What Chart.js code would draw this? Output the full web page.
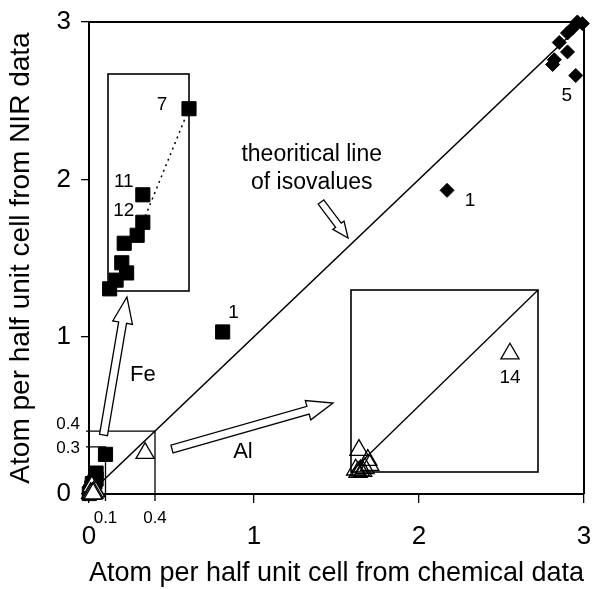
<!DOCTYPE html>
<html>
<head>
<meta charset="utf-8">
<script src="https://cdn.jsdelivr.net/npm/chart.js@4.4.1/dist/chart.umd.min.js"></script>
<style>
  body { margin: 0; background: #fff; }
  #wrap { position: relative; width: 596px; height: 589px; }
  canvas { position: absolute; }
</style>
</head>
<body>
<div id="wrap">
  <canvas id="main" width="596" height="589" style="left:0;top:0"></canvas>
  <canvas id="fe" width="111" height="247" style="left:93px;top:59px"></canvas>
  <canvas id="al" width="217" height="212" style="left:336px;top:275px"></canvas>
</div>
<script>
// Fe (squares), Al (triangles) and the diamond series, atoms per half unit cell
const feX = [0.100, 0.043, 0.043, 0.036, 0.020, 0.023, 0.017, 0.010, 0.002, 0.81];
const feY = [0.252, 0.133, 0.095, 0.077, 0.066, 0.025, 0.039, 0.015, 0.003, 1.03];
const feTags = ["7", "11", "12", "", "", "", "", "", "", "1"];

const alX = [0.34, 0.017, 0.036, 0.040, 0.010, 0.020, 0.030, 0.015, 0.025];
const alY = [0.26, 0.048, 0.026, 0.015, 0.005, 0.003, 0.008, 0.000, 0.002];
const alTags = ["14", "", "", "", "", "", "", "", ""];

const diaX = [2.17, 2.96, 2.99, 2.93, 2.90, 2.85, 2.90, 2.82, 2.81, 2.95];
const diaY = [1.93, 3.00, 2.99, 2.96, 2.93, 2.87, 2.81, 2.76, 2.73, 2.66];
const diaTags = ["1", "", "", "", "", "", "", "", "", "5"];

// zoomed ranges shown in the two boxes
const feRange = [0.1, 0.3];
const alRange = [0.4, 0.4];

const axisTicks = [0, 1, 2, 3];
const isoLine = [0, 3];

const FONT = "'Liberation Sans', Arial, Helvetica, sans-serif";

const pts = (xs, ys) => xs.map((v, i) => ({ x: v, y: ys[i] }));

// where the sample numbers sit relative to their marker (px)
const tagOffset = {
  "fe:7": [-27, -4], "fe:11": [-19, -13], "fe:12": [-19, -12], "fe:1": [11, -19],
  "dia:1": [23, 10], "dia:5": [-9, 20], "al:14": [0, 24]
};

function drawTags(chart, inZoom) {
  const { ctx, scales: { x, y } } = chart;
  ctx.save();
  ctx.fillStyle = "#000";
  ctx.font = "19px " + FONT;
  ctx.textAlign = "center";
  ctx.textBaseline = "middle";
  chart.data.datasets.forEach((ds) => {
    if (!ds.tags) return;
    ds.data.forEach((p, i) => {
      const t = ds.tags[i];
      if (!t) return;
      const inside = p.x <= x.max && p.y <= y.max;
      const zoomed = ds.range && p.x <= ds.range[0] && p.y <= ds.range[1];
      if (!inside || (!inZoom && zoomed)) return;
      const off = tagOffset[ds.key + ":" + t] || [0, 0];
      ctx.fillText(t, x.getPixelForValue(p.x) + off[0], y.getPixelForValue(p.y) + off[1]);
    });
  });
  ctx.restore();
}

function hollowArrow(ctx, x0, y0, x1, y1, w, hw, hl) {
  const len = Math.hypot(x1 - x0, y1 - y0);
  const ux = (x1 - x0) / len, uy = (y1 - y0) / len;
  const nx = -uy, ny = ux;
  const bx = x1 - ux * hl, by = y1 - uy * hl;
  ctx.beginPath();
  ctx.moveTo(x0 + nx * w, y0 + ny * w);
  ctx.lineTo(bx + nx * w, by + ny * w);
  ctx.lineTo(bx + nx * hw, by + ny * hw);
  ctx.lineTo(x1, y1);
  ctx.lineTo(bx - nx * hw, by - ny * hw);
  ctx.lineTo(bx - nx * w, by - ny * w);
  ctx.lineTo(x0 - nx * w, y0 - ny * w);
  ctx.closePath();
  ctx.fillStyle = "#fff";
  ctx.fill();
  ctx.stroke();
}

const mainDecor = {
  id: "mainDecor",
  beforeDatasetsDraw(chart) {
    const { ctx, chartArea: a, scales: { x, y } } = chart;
    ctx.save();
    ctx.strokeStyle = "#000";
    ctx.lineWidth = 2;
    ctx.beginPath();
    ctx.moveTo(a.left, a.top);
    ctx.lineTo(a.right, a.top);
    ctx.lineTo(a.right, a.bottom);
    ctx.stroke();

    // outlines of the two zoomed regions
    ctx.lineWidth = 1.3;
    [feRange, alRange].forEach(([bx, by]) => {
      const px = x.getPixelForValue(bx), py = y.getPixelForValue(by);
      ctx.beginPath();
      ctx.moveTo(a.left - 3, py);
      ctx.lineTo(px, py);
      ctx.lineTo(px, a.bottom + 7);
      ctx.stroke();
    });

    ctx.fillStyle = "#000";
    ctx.font = "17px " + FONT;
    ctx.textAlign = "center";
    ctx.textBaseline = "middle";
    ctx.fillText(String(feRange[0]), x.getPixelForValue(feRange[0]), a.bottom + 24);
    ctx.fillText(String(alRange[0]), x.getPixelForValue(alRange[0]), a.bottom + 24);
    ctx.textAlign = "right";
    ctx.fillText(String(alRange[1]), a.left - 9, y.getPixelForValue(alRange[1]) - 7);
    ctx.fillText(String(feRange[1]), a.left - 9, y.getPixelForValue(feRange[1]) + 2);
    ctx.restore();
  },
  afterDatasetsDraw(chart) {
    const { ctx, scales: { x, y } } = chart;
    const X = (v) => x.getPixelForValue(v), Y = (v) => y.getPixelForValue(v);
    ctx.save();
    ctx.strokeStyle = "#000";
    ctx.lineWidth = 1.3;
    hollowArrow(ctx, X(0.088), Y(0.375), X(0.23), Y(1.252), 4, 10, 26);
    hollowArrow(ctx, X(0.503), Y(0.286), X(1.479), Y(0.578), 4, 10, 26);
    hollowArrow(ctx, X(1.406), Y(1.856), X(1.570), Y(1.627), 3.5, 7, 16);

    ctx.fillStyle = "#000";
    ctx.textAlign = "center";
    ctx.textBaseline = "middle";
    ctx.font = "23px " + FONT;
    ctx.fillText("theoritical line", X(1.35), Y(2.155));
    ctx.fillText("of isovalues", X(1.35), Y(1.98));
    ctx.font = "22px " + FONT;
    ctx.fillText("Fe", X(0.327), Y(0.757));
    ctx.fillText("Al", X(0.933), Y(0.267));
    ctx.restore();
    drawTags(chart, false);
  }
};

const insetDecor = {
  id: "insetDecor",
  beforeDatasetsDraw(chart) {
    const { ctx, chartArea: a } = chart;
    ctx.save();
    ctx.strokeStyle = "#000";
    ctx.lineWidth = 1.6;
    ctx.strokeRect(a.left, a.top, a.right - a.left, a.bottom - a.top);
    ctx.restore();
  },
  afterDatasetsDraw(chart) {
    drawTags(chart, true);
  }
};

const squareStyle = {
  pointStyle: "rect", pointRadius: 10, backgroundColor: "#000",
  borderColor: "#000", borderWidth: 1, clip: false
};
const triStyle = {
  pointStyle: "triangle", pointRadius: 10.5, borderColor: "#000",
  borderWidth: 1.3, clip: false
};

new Chart(document.getElementById("main"), {
  type: "scatter",
  data: {
    datasets: [
      { ...triStyle, key: "al", data: pts(alX, alY), tags: alTags, range: alRange, backgroundColor: "#fff" },
      { ...squareStyle, key: "fe", data: pts(feX, feY), tags: feTags, range: feRange },
      {
        key: "dia", data: pts(diaX, diaY), tags: diaTags,
        pointStyle: "rectRot", pointRadius: 7, backgroundColor: "#000",
        borderColor: "#000", borderWidth: 1, clip: false
      },
      {
        type: "line", data: pts(isoLine, isoLine), borderColor: "#000",
        borderWidth: 1.5, pointRadius: 0, showLine: true
      }
    ]
  },
  options: {
    responsive: false,
    animation: false,
    events: [],
    layout: { padding: { left: 0, right: 12, top: 22, bottom: 0 } },
    plugins: { legend: { display: false }, tooltip: { enabled: false } },
    scales: {
      x: {
        type: "linear", min: 0, max: 3,
        afterFit: (s) => { s.height = 95; s.paddingLeft = 0; s.paddingRight = 0; },
        afterBuildTicks: (s) => { s.ticks = axisTicks.map((v) => ({ value: v })); },
        grid: { drawOnChartArea: false, color: "#000", lineWidth: 1.3, tickLength: 9 },
        border: { color: "#000", width: 2 },
        ticks: { color: "#000", padding: 18, font: { family: FONT, size: 26 } },
        title: {
          display: true, text: "Atom per half unit cell from chemical data",
          color: "#000", font: { family: FONT, size: 27.5 }, padding: { top: 0, bottom: -1 }
        }
      },
      y: {
        type: "linear", min: 0, max: 3,
        afterFit: (s) => { s.width = 89; s.paddingTop = 0; s.paddingBottom = 0; },
        afterBuildTicks: (s) => { s.ticks = axisTicks.map((v) => ({ value: v })); },
        grid: { drawOnChartArea: false, color: "#000", lineWidth: 1.3, tickLength: 8 },
        border: { color: "#000", width: 2 },
        ticks: { color: "#000", padding: 10, font: { family: FONT, size: 26 } },
        title: {
          display: true, text: "Atom per half unit cell from NIR data",
          color: "#000", font: { family: FONT, size: 28 }, padding: { top: 4, bottom: 0 }
        }
      }
    }
  },
  plugins: [mainDecor]
});

function inset(id, datasets, range) {
  return new Chart(document.getElementById(id), {
    type: "scatter",
    data: { datasets },
    options: {
      responsive: false,
      animation: false,
      events: [],
      layout: { padding: 15 },
      plugins: { legend: { display: false }, tooltip: { enabled: false } },
      scales: {
        x: { type: "linear", min: 0, max: range[0], display: false },
        y: { type: "linear", min: 0, max: range[1], display: false }
      }
    },
    plugins: [insetDecor]
  });
}

const inFe = pts(feX, feY).filter((p) => p.x <= feRange[0] && p.y <= feRange[1]);
inset("fe", [
  { ...squareStyle, key: "fe", data: inFe, tags: feTags.slice(0, inFe.length) },
  {
    type: "line", data: [inFe[0], inFe[2]], borderColor: "#000", borderWidth: 1.5,
    borderDash: [2, 4], pointRadius: 0, showLine: true
  }
], feRange);

inset("al", [
  { ...triStyle, key: "al", data: pts(alX, alY), tags: alTags, backgroundColor: "rgba(0,0,0,0)" },
  {
    type: "line", data: pts([0, alRange[0]], [0, alRange[1]]), borderColor: "#000",
    borderWidth: 1.3, pointRadius: 0, showLine: true
  }
], alRange);
</script>
</body>
</html>
